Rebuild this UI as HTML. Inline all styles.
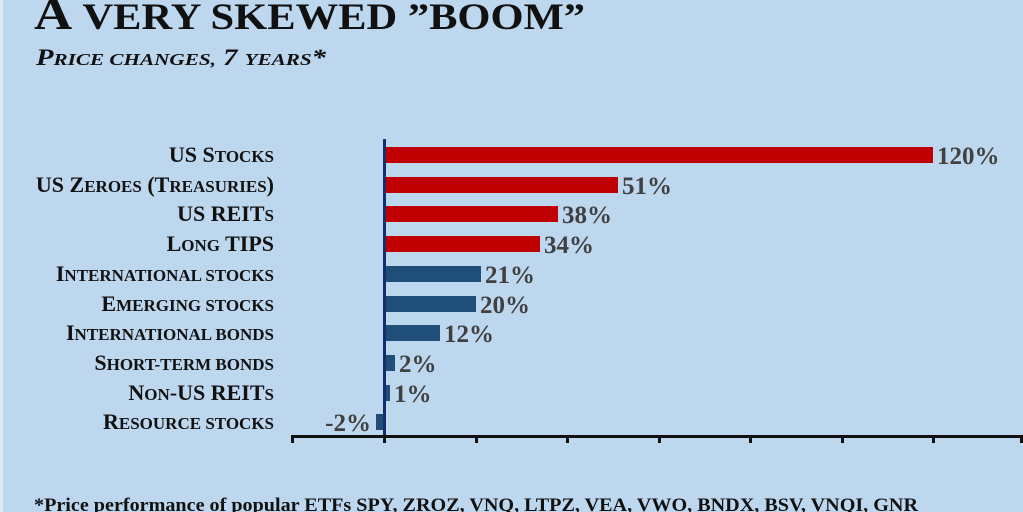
<!DOCTYPE html>
<html><head><meta charset="utf-8"><style>
html,body{margin:0;padding:0;background:#bdd7ee;}
svg{display:block}
text{font-family:"Liberation Serif",serif;}
</style></head><body>
<svg width="1023" height="512" viewBox="0 0 1023 512" xmlns="http://www.w3.org/2000/svg">
<rect width="1023" height="512" fill="#bdd7ee"/>
<rect x="0" y="0" width="3" height="512" fill="#dfeaf5"/>
<text x="34" y="29" font-size="46" font-weight="bold" fill="#111" textLength="551" lengthAdjust="spacingAndGlyphs">A <tspan font-size="37">VERY SKEWED ”BOOM”</tspan></text>
<text x="36" y="65" font-size="23" font-style="italic" font-weight="bold" fill="#111" textLength="290" lengthAdjust="spacingAndGlyphs">P<tspan font-size="17">RICE CHANGES,</tspan>  7 <tspan font-size="17">YEARS</tspan>*</text>
<g font-size="22" font-weight="bold" fill="#111" text-anchor="end">
<text x="274" y="162">US S<tspan font-size="17">TOCKS</tspan></text>
<text x="274" y="192">US Z<tspan font-size="17">EROES</tspan> (T<tspan font-size="17">REASURIES</tspan>)</text>
<text x="274" y="221">US REIT<tspan font-size="17">S</tspan></text>
<text x="274" y="251">L<tspan font-size="17">ONG</tspan> TIPS</text>
<text x="274" y="281">I<tspan font-size="17">NTERNATIONAL STOCKS</tspan></text>
<text x="274" y="311">E<tspan font-size="17">MERGING STOCKS</tspan></text>
<text x="274" y="340">I<tspan font-size="17">NTERNATIONAL BONDS</tspan></text>
<text x="274" y="370">S<tspan font-size="17">HORT-TERM BONDS</tspan></text>
<text x="274" y="400">N<tspan font-size="17">ON</tspan>-US REIT<tspan font-size="17">S</tspan></text>
<text x="274" y="429">R<tspan font-size="17">ESOURCE STOCKS</tspan></text>
</g>
<g fill="#c00000">
<rect x="386" y="147" width="547" height="16"/>
<rect x="386" y="177" width="232" height="16"/>
<rect x="386" y="206" width="172" height="16"/>
<rect x="386" y="236" width="154" height="16"/>
</g>
<g fill="#1f4e79">
<rect x="386" y="266" width="95" height="16"/>
<rect x="386" y="296" width="90" height="16"/>
<rect x="386" y="325" width="54" height="16"/>
<rect x="386" y="355" width="9" height="16"/>
<rect x="386" y="385" width="4" height="16"/>
<rect x="376" y="414" width="8" height="16"/>
</g>
<rect x="383" y="139" width="3" height="298" fill="#142d6b"/>
<rect x="292" y="435" width="731" height="3" fill="#111"/>
<g fill="#111">
<rect x="291" y="435" width="3" height="8"/>
<rect x="383" y="435" width="3" height="8"/>
<rect x="475" y="435" width="3" height="8"/>
<rect x="566" y="435" width="3" height="8"/>
<rect x="658" y="435" width="3" height="8"/>
<rect x="749" y="435" width="3" height="8"/>
<rect x="841" y="435" width="3" height="8"/>
<rect x="932" y="435" width="3" height="8"/>
<rect x="1020" y="435" width="3" height="8"/>
</g>
<g font-size="25" font-weight="bold" fill="#404040">
<text x="937" y="164">120%</text>
<text x="622" y="194">51%</text>
<text x="562" y="223">38%</text>
<text x="544" y="253">34%</text>
<text x="485" y="283">21%</text>
<text x="480" y="313">20%</text>
<text x="444" y="342">12%</text>
<text x="399" y="372">2%</text>
<text x="394" y="402">1%</text>
<text x="371" y="431" text-anchor="end">-2%</text>
</g>
<text x="34" y="511" font-size="19" font-weight="bold" fill="#111" textLength="884" lengthAdjust="spacingAndGlyphs">*Price performance of popular ETFs SPY, ZROZ, VNQ, LTPZ, VEA, VWO, BNDX, BSV, VNQI, GNR</text>
</svg>
</body></html>
